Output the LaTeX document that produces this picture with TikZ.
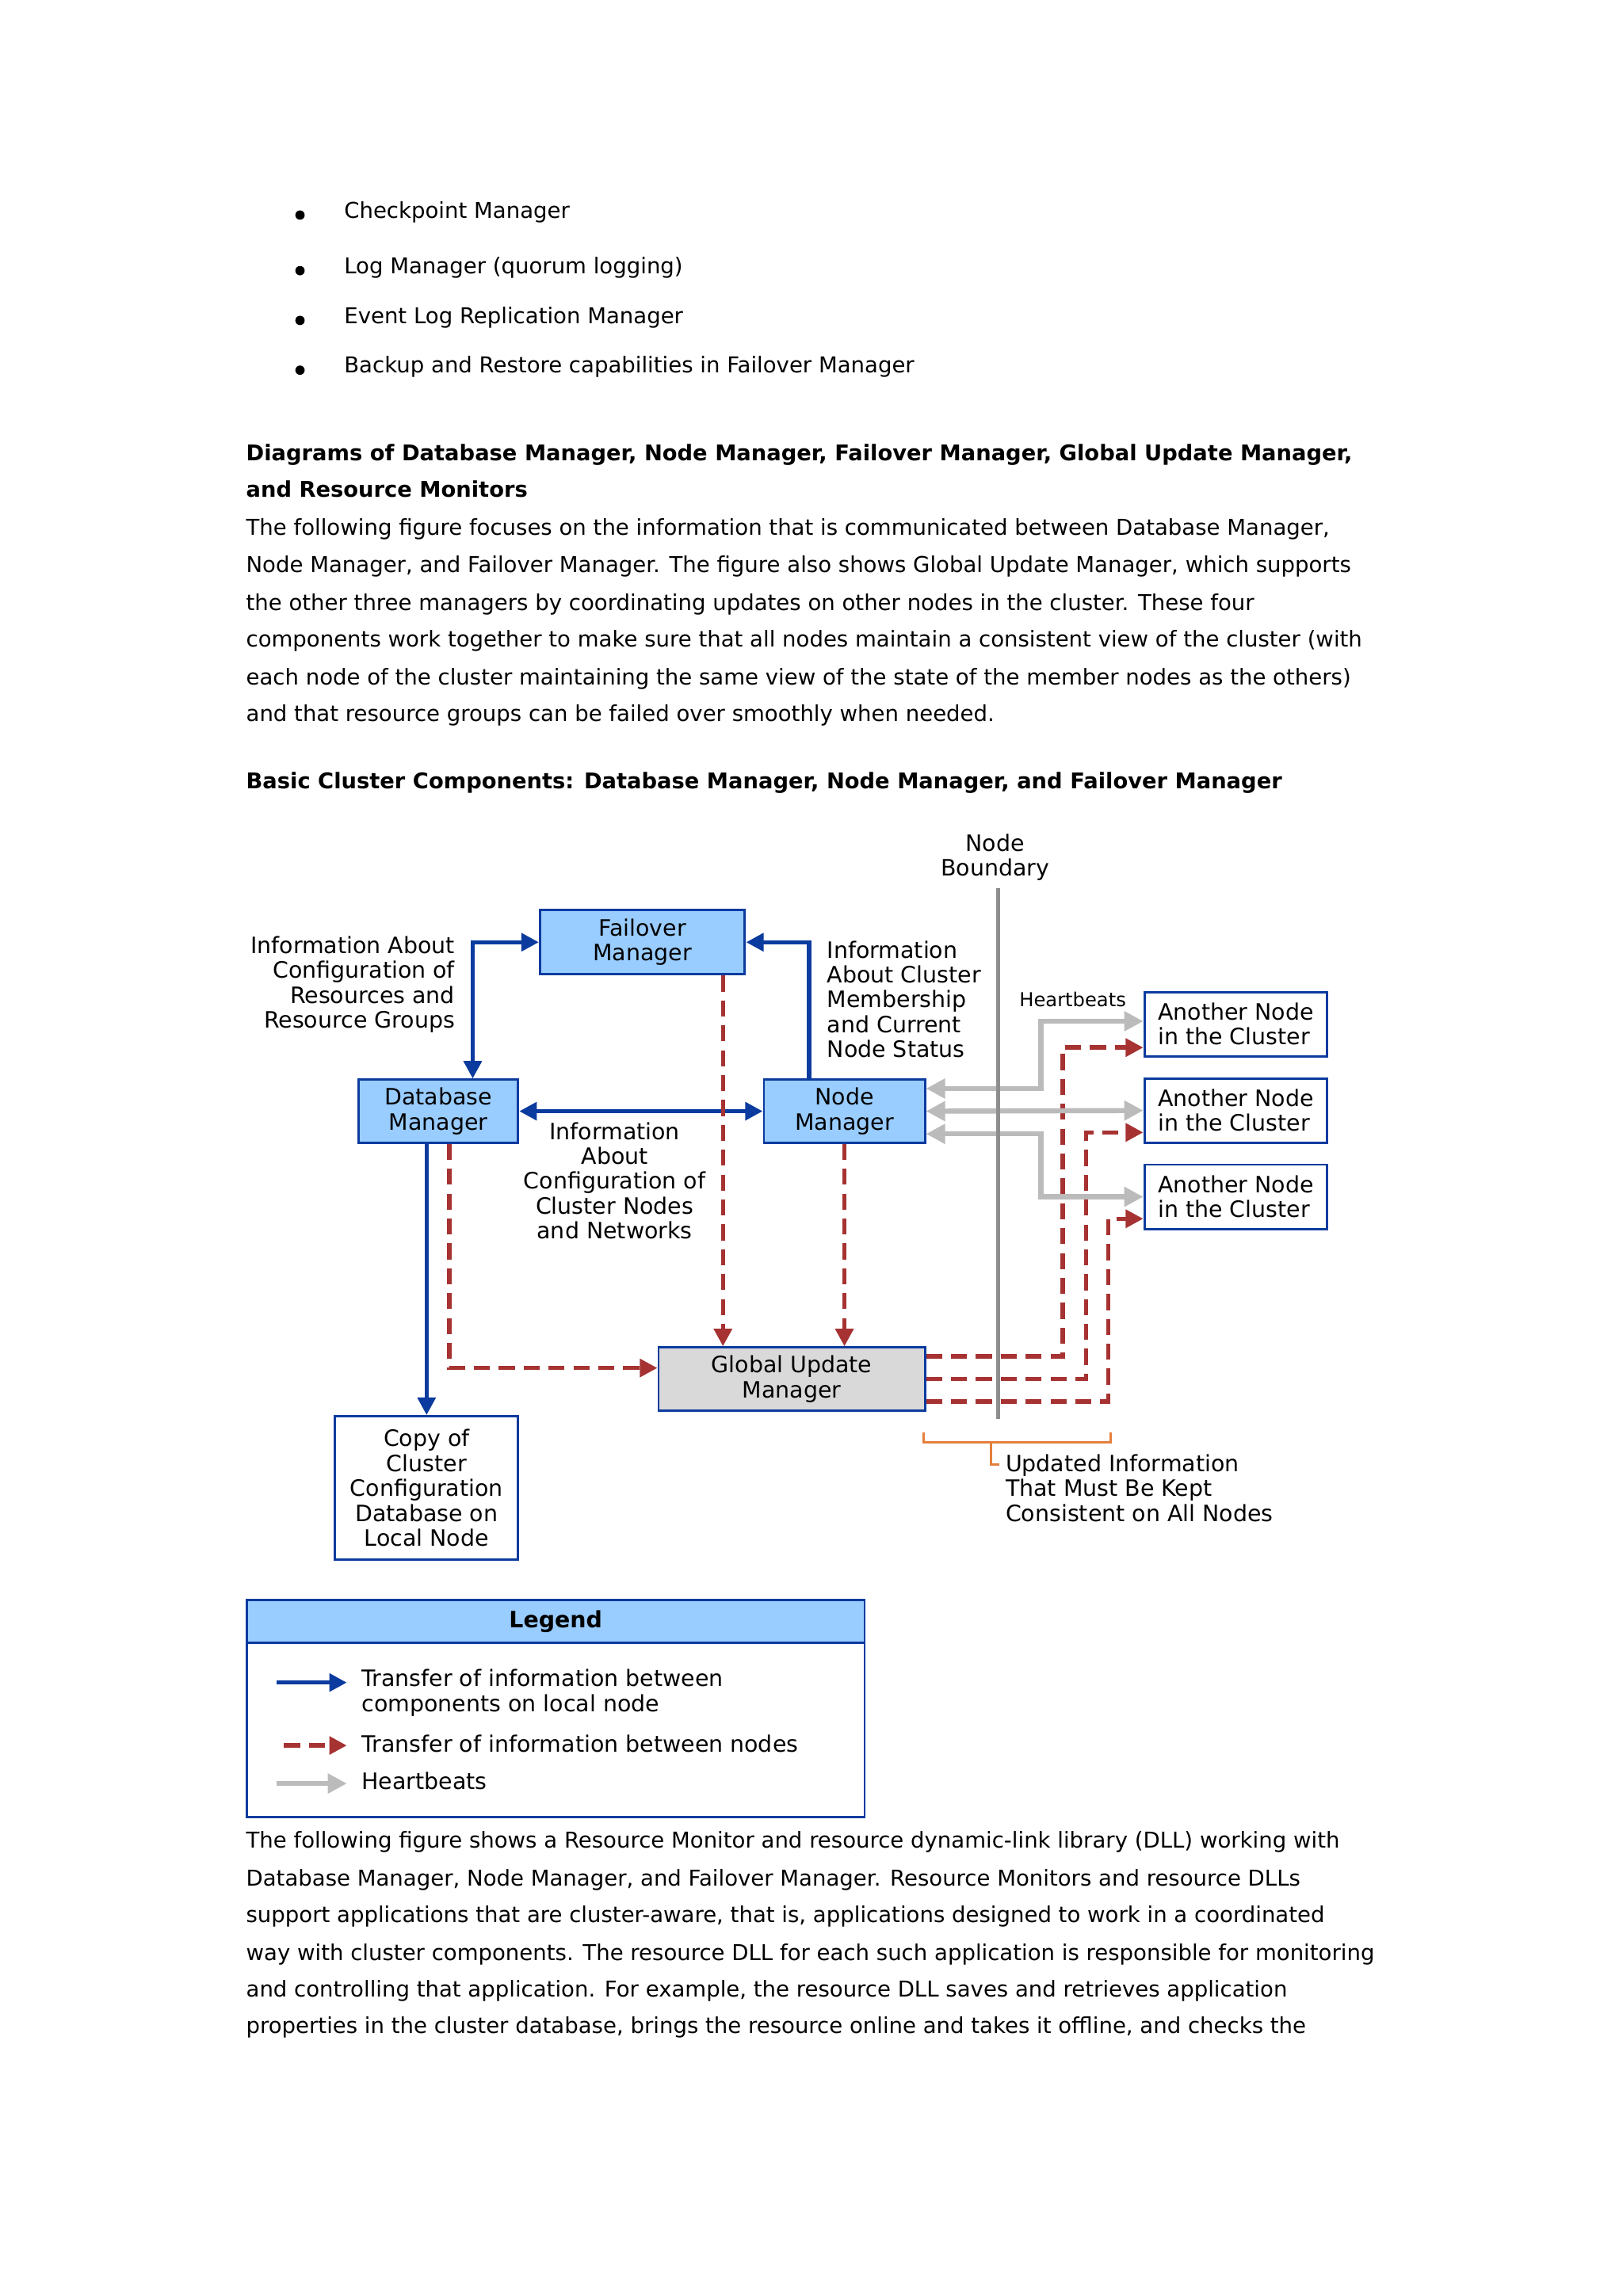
\documentclass[tikz,border=0pt]{standalone}
\usepackage{fontspec}
\setmainfont{DejaVu Sans}
\usetikzlibrary{arrows.meta}
\definecolor{bxblue}{HTML}{0B3B9E}
\definecolor{bxfill}{HTML}{99CCFF}
\definecolor{gufill}{HTML}{D9D9D9}
\definecolor{dred}{HTML}{A63232}
\definecolor{hbgray}{HTML}{BBBBBB}
\definecolor{bndgray}{HTML}{8E8E8E}
\definecolor{brorange}{HTML}{E57F3C}
\tikzset{
 body/.style={anchor=base west, inner sep=0pt, font=\fontsize{14.92}{17}\selectfont},
 bodyb/.style={anchor=base west, inner sep=0pt, font=\fontsize{14.8}{17}\selectfont\bfseries},
 lbl/.style={inner sep=0pt, font=\fontsize{15.4}{17}\selectfont},
 mgr/.style={draw=bxblue, line width=1.6pt, fill=bxfill, inner sep=0pt, align=center, font=\fontsize{15.4}{17}\selectfont},
 gum/.style={mgr, fill=gufill},
 wbox/.style={mgr, fill=white},
 blueln/.style={draw=bxblue, line width=3pt},
 blueto/.style={blueln, -{Triangle[length=12pt,width=12pt]}},
 blueboth/.style={blueln, {Triangle[length=12pt,width=12pt]}-{Triangle[length=12pt,width=12pt]}},
 redto/.style={draw=dred, line width=3pt, dash pattern=on 11pt off 6pt, -{Triangle[length=12pt,width=12pt]}},
 hbboth/.style={draw=hbgray, line width=3.5pt, {Triangle[length=13pt,width=13pt]}-{Triangle[length=13pt,width=13pt]}},
 hbto/.style={draw=hbgray, line width=3.5pt, -{Triangle[length=13pt,width=13pt]}},
 bullet/.style={fill=black}
}
\begin{document}
\begin{tikzpicture}[x=1pt,y=-1pt]
\fill[white] (0,0) rectangle (1109,1569.3);
\useasboundingbox (0,0) rectangle (1109,1569.3);

% bullets
\fill[bullet] (205,147) circle (3.2pt);
\fill[bullet] (205,185) circle (3.2pt);
\fill[bullet] (205,219) circle (3.2pt);
\fill[bullet] (205,253) circle (3.2pt);
\node[body] (b1) at (235,149) {Checkpoint Manager};
\node[body] (b2) at (235,187) {Log Manager (quorum logging)};
\node[body] (b3) at (235,221) {Event Log Replication Manager};
\node[body] (b4) at (235,255) {Backup and Restore capabilities in Failover Manager};

\node[bodyb] (h1) at (168,315) {Diagrams of Database Manager, Node Manager, Failover Manager, Global Update Manager,};
\node[bodyb] (h2) at (168,340) {and Resource Monitors};
\node[body] (p1) at (168,366) {The following figure focuses on the information that is communicated between Database Manager,};
\node[body] (p2) at (168,391) {Node Manager, and Failover Manager. The figure also shows Global Update Manager, which supports};
\node[body] (p3) at (168,417) {the other three managers by coordinating updates on other nodes in the cluster. These four};
\node[body] (p4) at (168,442) {components work together to make sure that all nodes maintain a consistent view of the cluster (with};
\node[body] (p5) at (168,468) {each node of the cluster maintaining the same view of the state of the member nodes as the others)};
\node[body] (p6) at (168,493) {and that resource groups can be failed over smoothly when needed.};
\node[bodyb] (h3) at (168,539) {Basic Cluster Components: Database Manager, Node Manager, and Failover Manager};

% diagram boxes
\node[mgr, minimum width=140pt, minimum height=44pt] (fm) at (439,644) {Failover\\Manager};
\node[mgr, minimum width=109pt, minimum height=43pt] (db) at (299.5,759.5) {Database\\Manager};
\node[mgr, minimum width=110pt, minimum height=43pt] (nm) at (577,759.5) {Node\\Manager};
\node[gum, minimum width=182pt, minimum height=43pt] (gu) at (541,942.5) {Global Update\\Manager};
\node[wbox, minimum width=125pt, minimum height=98pt] (cp) at (291.5,1017) {Copy of\\Cluster\\Configuration\\Database on\\Local Node};
\node[wbox, minimum width=125pt, minimum height=44pt, align=left] (an1) at (844.5,700) {Another Node\\in the Cluster};
\node[wbox, minimum width=125pt, minimum height=44pt, align=left] (an2) at (844.5,759) {Another Node\\in the Cluster};
\node[wbox, minimum width=125pt, minimum height=44pt, align=left] (an3) at (844.5,818) {Another Node\\in the Cluster};

% labels
\node[lbl, align=right, anchor=east] (l1) at (311,673) {Information About\\Configuration of\\Resources and\\Resource Groups};
\node[lbl, align=left, anchor=west] (l2) at (565,683) {Information\\About Cluster\\Membership\\and Current\\Node Status};
\node[lbl, align=center] (l3) at (420,807) {Information\\About\\Configuration of\\Cluster Nodes\\and Networks};
\node[lbl, align=center] (l4) at (680,586) {Node\\Boundary};
\node[lbl, font=\fontsize{13.1}{15}\selectfont] (l5) at (733,683) {Heartbeats};
\node[lbl, align=left, anchor=west] (l6) at (687,1017) {Updated Information\\That Must Be Kept\\Consistent on All Nodes};

% blue connectors
\draw[blueboth] (fm.west) -| ([xshift=23.5pt]db.north);
\draw[blueto] ([xshift=-24pt]nm.north) |- (fm.east);
\draw[blueboth] (db.east) -- (nm.west);
\draw[blueto] ([xshift=-8pt]db.south) -- (cp.north);

% red dashed connectors
\draw[redto] ([xshift=55pt]fm.south) -- ([xshift=55pt]fm.south |- gu.north);
\draw[redto] (nm.south) -- (gu.north -| nm.south);
\draw[redto] ([xshift=7.5pt]db.south) |- ([yshift=7.5pt]gu.west);
\draw[redto] ([yshift=15.5pt]gu.east) -| ([xshift=-55pt,yshift=-16pt]an1.west) -- ([yshift=-16pt]an1.west);
\draw[redto] (gu.east) -| ([xshift=-39pt,yshift=-15pt]an2.west) -- ([yshift=-15pt]an2.west);
\draw[redto] ([yshift=-15.5pt]gu.east) -| ([xshift=-24pt,yshift=-15pt]an3.west) -- ([yshift=-15pt]an3.west);

% heartbeats
\draw[hbboth] ([yshift=15.5pt]nm.east) -| ([xshift=-70pt,yshift=2pt]an1.west) -- ([yshift=2pt]an1.west);
\draw[hbboth] (nm.east) -- (an2.west);
\draw[hbboth] ([yshift=-15.5pt]nm.east) -| ([xshift=-70pt]an3.west) -- (an3.west);

% node boundary
\coordinate (nbtop) at (682,607);
\coordinate (nbbot) at (682,970);
\draw[bndgray, line width=3pt] (nbtop) -- (nbbot);

% bracket
\draw[brorange, line width=1.5pt] (631,979) -- (631,986) -- (759,986) -- (759,979);
\draw[brorange, line width=1.5pt] (677,986) -- (677,1001) -- (683,1001);

% legend
\node[draw=bxblue, line width=1.5pt, fill=white, minimum width=422pt, minimum height=148pt, anchor=north west, inner sep=0pt] (leg) at (168,1093) {};
\node[draw=bxblue, line width=1.5pt, fill=bxfill, minimum width=422pt, minimum height=29pt, anchor=north west, inner sep=0pt, font=\fontsize{15.4}{17}\selectfont\bfseries] (legh) at (168,1093) {Legend};
\coordinate (la1) at (189,1150); \coordinate (lb1) at (237,1150);
\coordinate (la2) at (194,1193); \coordinate (lb2) at (237,1193);
\coordinate (la3) at (189,1219); \coordinate (lb3) at (237,1219);
\draw[blueto] (la1) -- (lb1);
\draw[redto] (la2) -- (lb2);
\draw[hbto] (la3) -- (lb3);
\node[lbl, align=left, anchor=west] (lt1) at (247,1157) {Transfer of information between\\components on local node};
\node[lbl, anchor=west] (lt2) at (247,1192) {Transfer of information between nodes};
\node[lbl, anchor=west] (lt3) at (247,1217) {Heartbeats};

% bottom paragraph
\node[body] (q1) at (168,1263) {The following figure shows a Resource Monitor and resource dynamic-link library (DLL) working with};
\node[body] (q2) at (168,1289) {Database Manager, Node Manager, and Failover Manager. Resource Monitors and resource DLLs};
\node[body] (q3) at (168,1314) {support applications that are cluster-aware, that is, applications designed to work in a coordinated};
\node[body] (q4) at (168,1340) {way with cluster components. The resource DLL for each such application is responsible for monitoring};
\node[body] (q5) at (168,1365) {and controlling that application. For example, the resource DLL saves and retrieves application};
\node[body] (q6) at (168,1390) {properties in the cluster database, brings the resource online and takes it offline, and checks the};
\end{tikzpicture}
\end{document}
